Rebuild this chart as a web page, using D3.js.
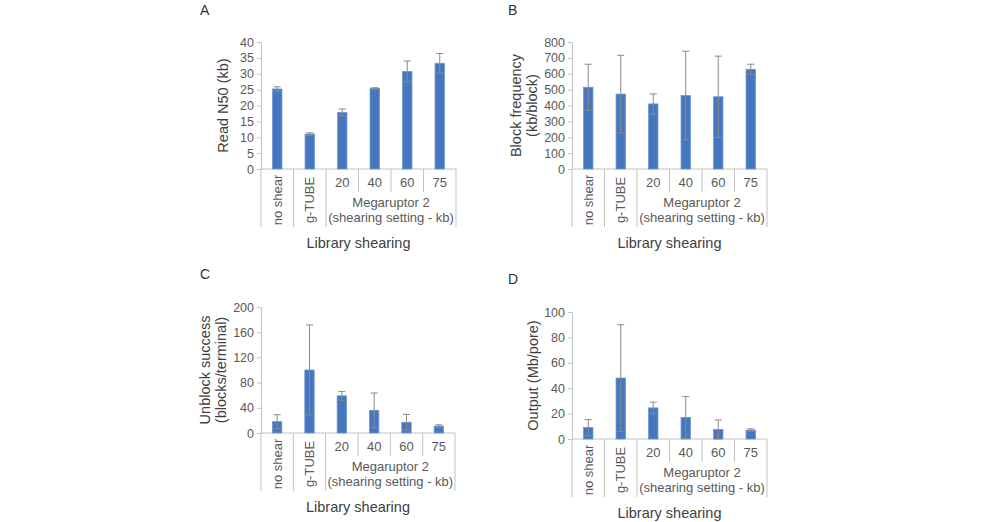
<!DOCTYPE html>
<html>
<head>
<meta charset="utf-8">
<script src="https://cdn.jsdelivr.net/npm/d3@7"></script>
<style>
  html, body { margin: 0; padding: 0; background: #fff; }
  svg { display: block; font-family: "Liberation Sans", Arial, sans-serif; }
</style>
</head>
<body>
<script>
// categories shared by all four panels
const categories = ["no shear", "g-TUBE", "20", "40", "60", "75"];
const rotatedCategories = ["no shear", "g-TUBE"];
const groupLabel = ["Megaruptor 2", "(shearing setting - kb)"];
const xTitle = "Library shearing";

// A: Read N50 (kb)
const readN50 = [25.2, 11.0, 17.8, 25.4, 30.7, 33.3];
const readN50Err = [0.7, 0.4, 1.1, 0.2, 3.3, 3.1];
const readN50Ticks = [0, 5, 10, 15, 20, 25, 30, 35, 40];

// B: Block frequency (kb/block)
const blockFreq = [515, 472, 410, 463, 455, 628];
const blockFreqErr = [145, 244, 63, 279, 256, 32];
const blockFreqTicks = [0, 100, 200, 300, 400, 500, 600, 700, 800];

// C: Unblock success (blocks/terminal)
const unblock = [18, 100, 59, 36, 17, 11];
const unblockErr = [11, 71.5, 7, 27.5, 12.5, 2];
const unblockTicks = [0, 40, 80, 120, 160, 200];

// D: Output (Mb/pore)
const output = [9, 48, 24.5, 17, 7.5, 7];
const outputErr = [6.3, 42, 4.5, 16.5, 7.5, 1];
const outputTicks = [0, 20, 40, 60, 80, 100];

const width = 1000;
const height = 522;
const barColor = "#4677be";
const lineColor = "#c3c3c3";
const textColor = "#595959";

const svg = d3.select("body").append("svg")
  .attr("width", width)
  .attr("height", height);

svg.append("rect").attr("width", width).attr("height", height).attr("fill", "#fff");

function drawPanel({ letter, letterPos, x0, x1, y0, y1, values, errors, ticks, yTitle, titleX }) {
  const g = svg.append("g");
  const x = d3.scaleBand().domain(categories).range([x0, x1]).padding(0);
  const y = d3.scaleLinear().domain([ticks[0], ticks[ticks.length - 1]]).range([y0, y1]);

  g.append("text")
    .attr("x", letterPos[0])
    .attr("y", letterPos[1])
    .attr("fill", "#333")
    .attr("font-size", "14px")
    .text(letter);

  // y axis
  const yAxis = g.append("g")
    .attr("transform", `translate(${x0},0)`)
    .call(d3.axisLeft(y).tickValues(ticks).tickSize(4).tickSizeOuter(0).tickPadding(3));
  yAxis.select(".domain").attr("stroke", lineColor);
  yAxis.selectAll(".tick line").attr("stroke", lineColor);
  yAxis.selectAll(".tick text")
    .attr("fill", textColor)
    .attr("font-size", "12.5px")
    .style("font-family", "Liberation Sans, Arial, sans-serif");

  // y title (one or two lines)
  const yc = (y0 + y1) / 2;
  const lines = Array.isArray(yTitle) ? yTitle : [yTitle];
  lines.forEach((line, i) => {
    const tx = titleX + (i - (lines.length - 1) / 2) * 16;
    g.append("text")
      .attr("transform", `translate(${tx},${yc}) rotate(-90)`)
      .attr("text-anchor", "middle")
      .attr("dy", "0.35em")
      .attr("fill", "#404040")
      .attr("font-size", "14.5px")
      .text(line);
  });

  // x axis baseline
  g.append("line")
    .attr("x1", x0).attr("x2", x1)
    .attr("y1", y0).attr("y2", y0)
    .attr("stroke", lineColor);

  // category separators
  const longBottom = y0 + 58;
  const shortBottom = y0 + 23;
  categories.forEach((c, i) => {
    const sx = x(c);
    const isLong = i <= 2;
    g.append("line")
      .attr("x1", sx).attr("x2", sx)
      .attr("y1", y0).attr("y2", isLong ? longBottom : shortBottom)
      .attr("stroke", lineColor);
  });
  g.append("line")
    .attr("x1", x1).attr("x2", x1)
    .attr("y1", y0).attr("y2", longBottom)
    .attr("stroke", lineColor);

  // category labels
  categories.forEach((c) => {
    const cx = x(c) + x.bandwidth() / 2;
    if (rotatedCategories.includes(c)) {
      g.append("text")
        .attr("transform", `translate(${cx},${y0 + 31}) rotate(-90)`)
        .attr("text-anchor", "middle")
        .attr("dy", "0.35em")
        .attr("fill", textColor)
        .attr("font-size", "13px")
        .text(c);
    } else {
      g.append("text")
        .attr("x", cx)
        .attr("y", y0 + 13)
        .attr("text-anchor", "middle")
        .attr("dy", "0.35em")
        .attr("fill", textColor)
        .attr("font-size", "13px")
        .text(c);
    }
  });
  const gx = (x(categories[2]) + x1) / 2;
  groupLabel.forEach((t, i) => {
    g.append("text")
      .attr("x", gx)
      .attr("y", y0 + 33 + i * 15)
      .attr("text-anchor", "middle")
      .attr("dy", "0.35em")
      .attr("fill", textColor)
      .attr("font-size", "13px")
      .text(t);
  });

  g.append("text")
    .attr("x", (x0 + x1) / 2)
    .attr("y", y0 + 74)
    .attr("text-anchor", "middle")
    .attr("dy", "0.35em")
    .attr("fill", "#404040")
    .attr("font-size", "14.5px")
    .text(xTitle);

  // bars
  const bw = x.bandwidth() * 0.29;
  g.selectAll("rect.bar")
    .data(values)
    .join("rect")
    .attr("class", "bar")
    .attr("x", (d, i) => x(categories[i]) + (x.bandwidth() - bw) / 2)
    .attr("y", (d) => y(d))
    .attr("width", bw)
    .attr("height", (d) => y0 - y(d))
    .attr("fill", barColor)
    .attr("stroke", "#6b98d1")
    .attr("stroke-width", 0.8);

  // error bars
  const cap = 3.5;
  values.forEach((v, i) => {
    const cx = x(categories[i]) + x.bandwidth() / 2;
    const lo = y(Math.max(0, v - errors[i]));
    const hi = y(v + errors[i]);
    g.append("line").attr("x1", cx).attr("x2", cx).attr("y1", lo).attr("y2", hi)
      .attr("stroke", "#8a8a8a").attr("stroke-width", 1);
    [lo, hi].forEach((yy) => {
      g.append("line").attr("x1", cx - cap).attr("x2", cx + cap).attr("y1", yy).attr("y2", yy)
        .attr("stroke", "#8a8a8a").attr("stroke-width", 1);
    });
  });
}

drawPanel({
  letter: "A", letterPos: [200, 15], x0: 261, x1: 456, y0: 169, y1: 42,
  values: readN50, errors: readN50Err, ticks: readN50Ticks,
  yTitle: "Read N50 (kb)", titleX: 223
});
drawPanel({
  letter: "B", letterPos: [508, 15], x0: 572, x1: 767, y0: 169, y1: 42,
  values: blockFreq, errors: blockFreqErr, ticks: blockFreqTicks,
  yTitle: ["Block frequency", "(kb/block)"], titleX: 524
});
drawPanel({
  letter: "C", letterPos: [200, 279], x0: 261, x1: 455, y0: 433, y1: 307,
  values: unblock, errors: unblockErr, ticks: unblockTicks,
  yTitle: ["Unblock success", "(blocks/terminal)"], titleX: 213
});
drawPanel({
  letter: "D", letterPos: [508, 284], x0: 572, x1: 767, y0: 439, y1: 312,
  values: output, errors: outputErr, ticks: outputTicks,
  yTitle: "Output (Mb/pore)", titleX: 533
});
</script>
</body>
</html>
